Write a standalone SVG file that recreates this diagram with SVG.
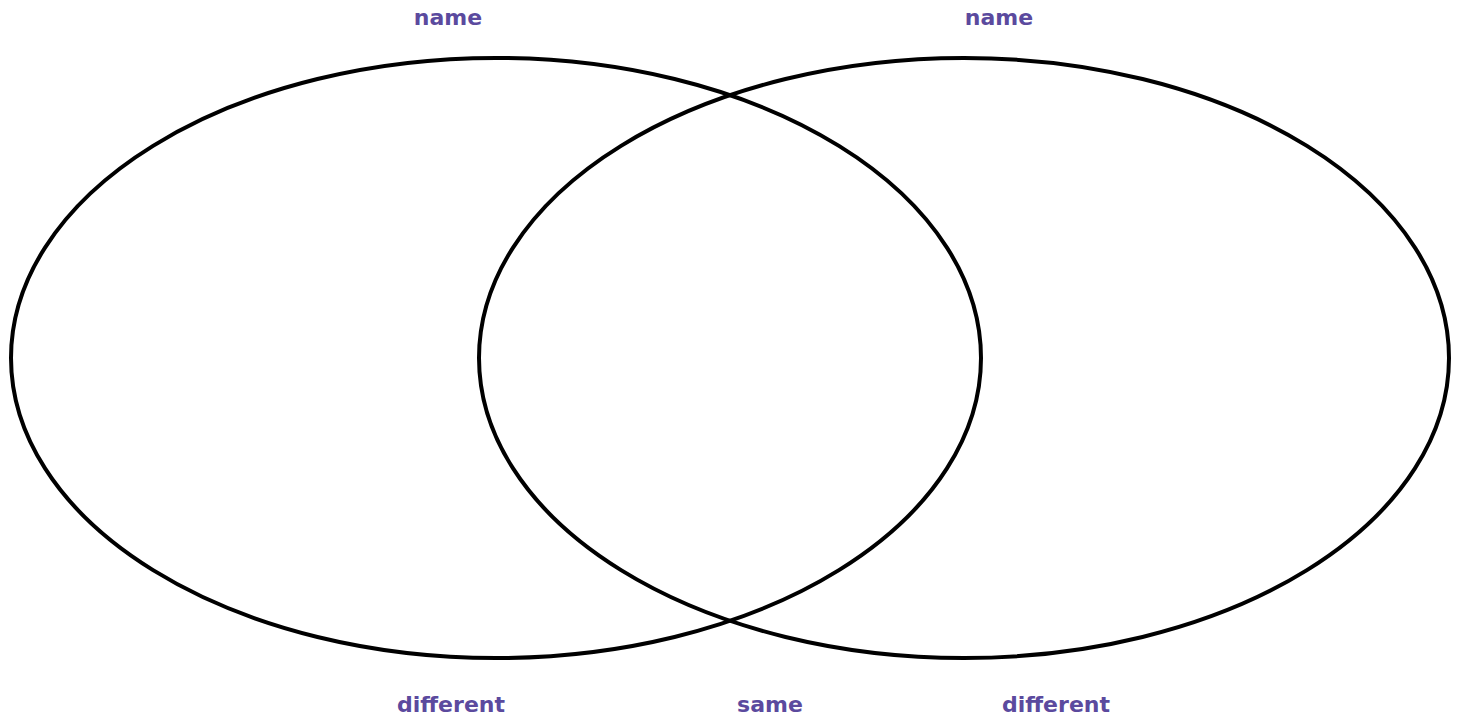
<svg xmlns="http://www.w3.org/2000/svg" width="1462" height="719" viewBox="0 0 1462 719">
<style>
.e{fill:none;stroke:#000;stroke-width:4}
.t{font-family:"Comic Sans MS","DejaVu Sans",sans-serif;font-weight:bold;font-size:22px;fill:#5b4a9e;text-anchor:middle}
</style>
<rect width="1462" height="719" fill="#fff"/>
<g id="left-set"><ellipse class="e" cx="496" cy="358" rx="485" ry="300"/></g>
<g id="right-set"><ellipse class="e" cx="964" cy="358" rx="485" ry="300"/></g>
<g id="labels">
<text class="t" x="448" y="25">name</text>
<text class="t" x="999" y="25">name</text>
<text class="t" x="451" y="712">different</text>
<text class="t" x="770" y="712">same</text>
<text class="t" x="1056" y="712">different</text>
</g>
</svg>
